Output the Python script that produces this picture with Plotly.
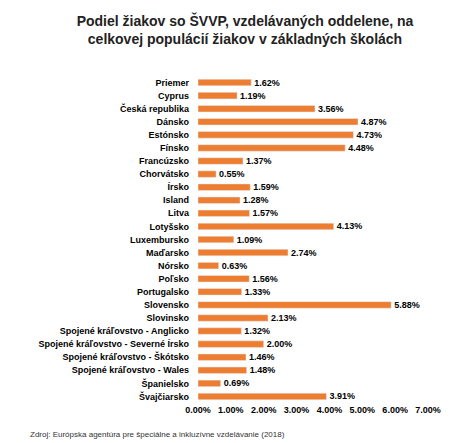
import plotly.graph_objects as go

countries = ["Priemer", "Cyprus", "Česká republika", "Dánsko", "Estónsko", "Fínsko",
             "Francúzsko", "Chorvátsko", "Írsko", "Island", "Litva", "Lotyšsko",
             "Luxembursko", "Maďarsko", "Nórsko", "Poľsko", "Portugalsko", "Slovensko",
             "Slovinsko", "Spojené kráľovstvo - Anglicko", "Spojené kráľovstvo - Severné Írsko",
             "Spojené kráľovstvo - Škótsko", "Spojené kráľovstvo - Wales", "Španielsko",
             "Švajčiarsko"]
values = [1.62, 1.19, 3.56, 4.87, 4.73, 4.48, 1.37, 0.55, 1.59, 1.28, 1.57, 4.13,
          1.09, 2.74, 0.63, 1.56, 1.33, 5.88, 2.13, 1.32, 2.00, 1.46, 1.48, 0.69, 3.91]
tick_vals = [0, 1, 2, 3, 4, 5, 6, 7]

font = "Liberation Sans, Arial, sans-serif"

fig = go.Figure(go.Bar(
    x=values, y=countries, orientation="h",
    marker_color="#ED7D31", width=0.5,
    text=[f"<b>{v:.2f}%</b>" for v in values], textposition="outside",
    constraintext="none",
    textfont=dict(size=9, color="#000000"), cliponaxis=False,
))

fig.update_layout(
    width=474, height=443,
    margin=dict(l=190, r=54, t=68, b=48),
    paper_bgcolor="white", plot_bgcolor="white",
    font=dict(family=font, color="#000000"),
    title=dict(text="<b>Podiel žiakov so ŠVVP, vzdelávaných oddelene, na<br>celkovej populácií žiakov v základných školách</b>",
               x=0.5, xanchor="center", y=0.96, yanchor="top",
               font=dict(size=14, color="#222222")),
    xaxis=dict(range=[0, 7], tickvals=tick_vals,
               ticktext=[f"<b>{t:.2f}%</b>" for t in tick_vals],
               showgrid=False, zeroline=False, tickfont=dict(size=9)),
    yaxis=dict(autorange="reversed", showgrid=False,
               ticktext=[f"<b>{c}</b>" for c in countries], tickvals=countries,
               tickfont=dict(size=9), ticklabelstandoff=8),
    showlegend=False,
    annotations=[dict(text="Zdroj: Európska agentúra pre špeciálne a inkluzívne vzdelávanie (2018)",
                      xref="paper", yref="paper", x=-170/230, y=-0.075,
                      xanchor="left", yanchor="top", showarrow=False,
                      font=dict(size=8, color="#333333"))],
)

fig.write_html("out.html")
